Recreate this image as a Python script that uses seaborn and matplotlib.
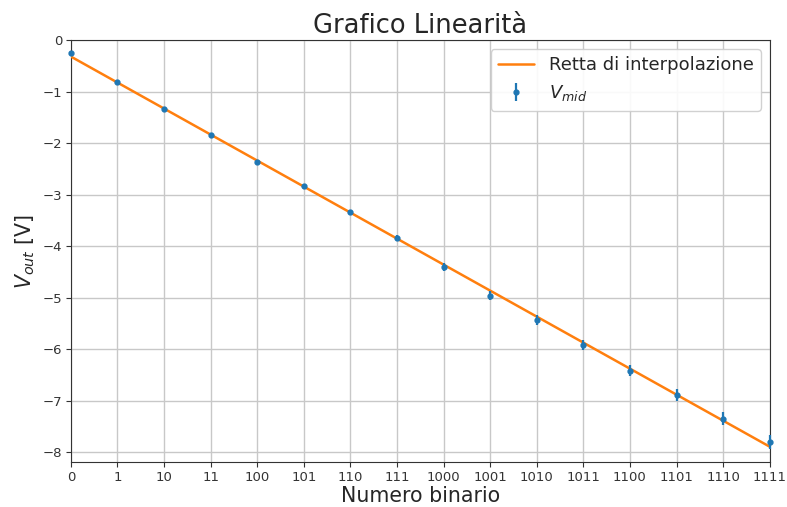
import numpy as np
import pandas as pd
import matplotlib
matplotlib.use("Agg")
import matplotlib.pyplot as plt
import seaborn as sns

# measured points: index of the binary input and output voltage
codes = list(range(16))
binary_labels = [format(c, "b") for c in codes]
v_mid = [-0.25, -0.82, -1.34, -1.85, -2.37, -2.84, -3.34, -3.84,
         -4.41, -4.96, -5.44, -5.92, -6.42, -6.89, -7.35, -7.80]
v_err = [0.03, 0.03, 0.03, 0.04, 0.04, 0.05, 0.05, 0.06,
         0.08, 0.09, 0.10, 0.10, 0.11, 0.12, 0.13, 0.14]

# interpolation line
fit_slope = -0.505
fit_intercept = -0.32

sns.set_style("ticks")
plt.rcParams["font.family"] = ["DejaVu Sans"]

fig, ax = plt.subplots(figsize=(7.87, 5.07), dpi=100)
fig.subplots_adjust(left=0.09, right=0.978, top=0.921, bottom=0.088)

fit_df = pd.DataFrame({"x": [codes[0], codes[-1]]})
fit_df["y"] = fit_intercept + fit_slope * fit_df["x"]
sns.lineplot(data=fit_df, x="x", y="y", ax=ax, color="#ff7f0e", lw=1.8,
             label="Retta di interpolazione", zorder=3)

eb = ax.errorbar(codes, v_mid, yerr=v_err, fmt=".", color="#1f77b4", ms=7,
                 elinewidth=1.6, label=r"$V_{mid}$", zorder=4)
for artist in eb.lines[0:1] + tuple(eb.lines[2]):
    artist.set_clip_on(False)

ax.set_xlim(0, 15)
ax.set_ylim(-8.2, 0)
ax.set_xticks(codes)
ax.set_xticklabels(binary_labels)
ax.grid(True, color="#c8c8c8", lw=1)
ax.tick_params(labelsize=9.5, colors="#333333", pad=2.5)
for s in ax.spines.values():
    s.set_color("#333333")

ax.set_title("Grafico Linearità", fontsize=18.5, pad=5)
ax.set_xlabel("Numero binario", fontsize=14.8, labelpad=2)
ax.set_ylabel(r"$V_{out}$ [V]", fontsize=14.8, labelpad=4)
ax.legend(loc="upper right", fontsize=13, framealpha=0.9)

fig.savefig("out.png", dpi=100)
